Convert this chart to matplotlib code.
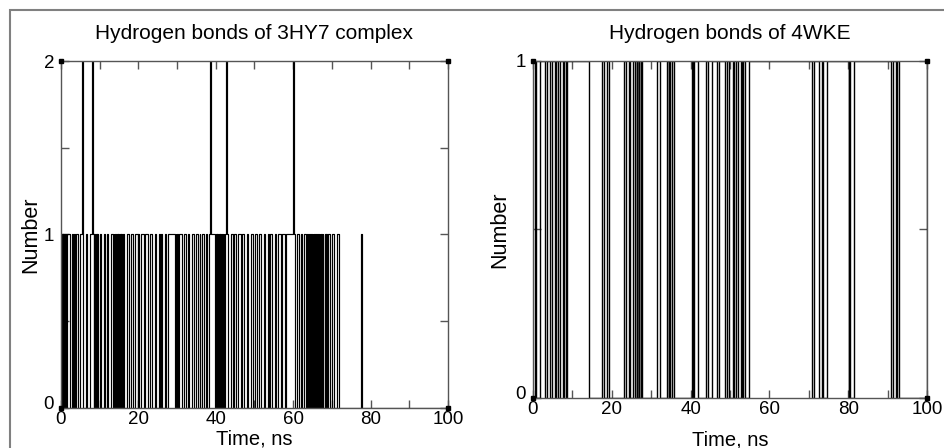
import numpy as np
import matplotlib.pyplot as plt
import matplotlib.transforms as mtransforms
from matplotlib.patches import Rectangle

plt.rcParams['font.family'] = ['Liberation Sans', 'DejaVu Sans']

# 3HY7: number of H-bonds sampled every 0.2 ns, one string per 10 ns
dt_3hy7 = 0.2
hb_3hy7 = [
    "0101010011" "1000110100" "1100011210" "0011000111" "2101010100",  # 0-10 ns
    "1100011001" "1000111010" "1010101010" "1100011100" "0110001110",  # 10-20
    "1000111001" "1100011100" "0110001101" "1000110011" "1111111010",  # 20-30
    "1001110001" "1100110001" "1100011001" "0011100110" "0112111110",  # 30-40
    "1010101010" "1012210001" "1100110001" "1100111000" "1100011100",  # 40-50
    "0110001110" "0011000110" "1110001100" "0111001110" "0111111111",  # 50-60
    "2100011100" "1100110010" "0101010101" "1010101010" "0101011000",  # 60-70
    "1110001110" "0000000000" "0000000000" "0000000010" "0000000000",  # 70-80
    "0000000000" "0000000000" "0000000000" "0000000000" "0000000000",  # 80-90
    "0000000000" "0000000000" "0000000000" "0000000000" "0000000000",  # 90-100
]

# 4WKE: times (ns) where the bond count switches between 0 and 1
switch_4wke = [0.4, 0.85, 1.7, 3.0, 3.6, 4.2, 4.9, 5.5, 5.9, 6.4, 6.8, 7.5, 7.9, 8.5, 8.7,
               14.2, 17.6, 18.0, 18.8, 19.3,
               23.1, 23.7, 24.4, 24.7, 25.4, 26.0, 26.3, 26.5, 26.8, 27.0, 27.3, 27.7,
               31.4, 32.2, 34.1, 34.4, 34.6, 34.75, 35.2, 35.8,
               40.3, 40.5, 40.8, 41.9,
               43.9, 44.5, 45.4, 46.6, 47.3, 48.7, 49.2, 49.8, 50.8, 51.1, 51.4,
               52.1, 52.7, 53.1, 53.4, 53.8, 54.9,
               70.9, 71.4, 72.7, 73.3, 73.7, 74.7,
               80.1, 80.3, 80.5, 81.4,
               90.8, 91.4, 92.2, 92.5, 92.8]

x_ticks = [0, 10, 20, 30, 40, 50, 60, 70, 80, 90, 100]
x_labels = ['0', '', '20', '', '40', '', '60', '', '80', '', '100']

W, H = 945, 448
fig = plt.figure(figsize=(W / 100, H / 100), dpi=100)

# outer frame (only top and left edges visible in the crop)
fig.patches.append(Rectangle((10 / W, -0.1), 1.2, (H - 10) / H + 0.1, transform=fig.transFigure,
                             fill=False, edgecolor='#808080', linewidth=1.5))

ax1 = fig.add_axes([61 / W, (H - 408) / H, 387 / W, 347 / H])
ax2 = fig.add_axes([533 / W, (H - 398) / H, 394 / W, 337 / H])

# left panel data
vals = np.array([int(c) for c in "".join(hb_3hy7)], dtype=float)
t = np.arange(len(vals)) * dt_3hy7
t = np.append(t, 100)
vals = np.append(vals, vals[-1])
ax1.step(t, vals, where='post', color='black', lw=0.85)

# right panel data
t2 = np.concatenate([[0], switch_4wke, [100]])
v2 = np.arange(len(t2)) % 2
ax2.step(t2, v2, where='post', color='black', lw=1.0)

for ax, ymax, yt, ylab, title in [
        (ax1, 2, [0, 0.5, 1, 1.5, 2], ['0', '', '1', '', '2'], 'Hydrogen bonds of 3HY7 complex'),
        (ax2, 1, [0, 0.5, 1], ['0', '', '1'], 'Hydrogen bonds of 4WKE')]:
    ax.set_xlim(0, 100)
    ax.set_ylim(0, ymax)
    ax.set_xticks(x_ticks)
    ax.set_xticklabels(x_labels)
    ax.set_yticks(yt)
    ax.set_yticklabels(ylab)
    ax.tick_params(direction='in', length=6, width=1, color='#555555', top=True, right=True,
                   labelsize=13.5, pad=2)
    ax.tick_params(axis='y', pad=5)
    for s in ax.spines.values():
        s.set_color('#555555')
        s.set_linewidth(1)
    ax.set_title(title, fontsize=15, pad=16)
    ax.set_xlabel('Time, ns', fontsize=14.5)
    ax.set_ylabel('Number', fontsize=15.5)
    # little corner squares
    ax.plot([0, 100, 0, 100], [0, 0, ymax, ymax], 's', color='black', ms=3.5, clip_on=False, zorder=5)

# lift the lowest y label a little so it clears the x "0"
lift = mtransforms.ScaledTranslation(0, 4 / 72, fig.dpi_scale_trans)
for ax in (ax1, ax2):
    lab = ax.get_yticklabels()[0]
    lab.set_transform(lab.get_transform() + lift)

ax1.xaxis.set_label_coords(0.5, -0.063)
ax2.xaxis.set_label_coords(0.5, -0.095)
ax1.yaxis.set_label_coords(-0.05, 0.5)
ax2.yaxis.set_label_coords(-0.057, 0.5)

fig.savefig('out.png', dpi=100)
